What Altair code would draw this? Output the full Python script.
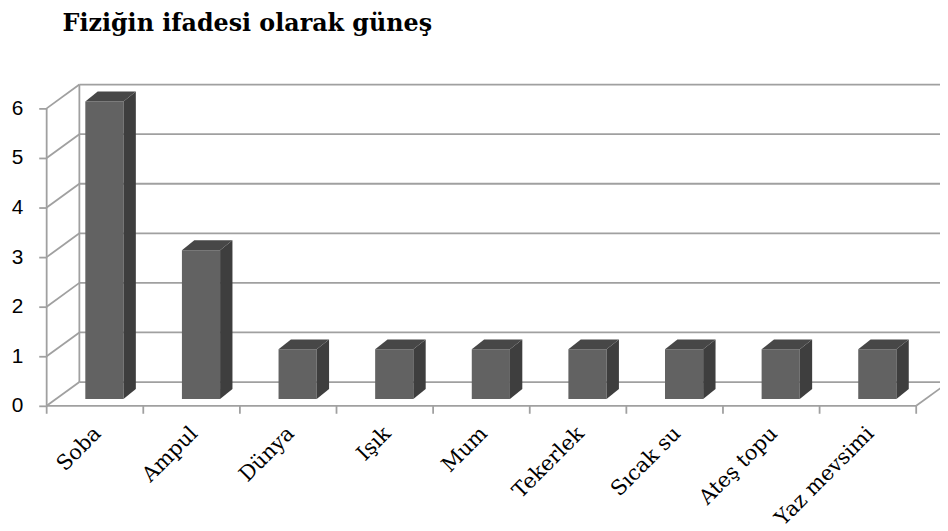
import altair as alt
import pandas as pd

# ---- data ----
categories = ["Soba", "Ampul", "Dünya", "Işık", "Mum", "Tekerlek", "Sıcak su", "Ateş topu", "Yaz mevsimi"]
values = [6, 3, 1, 1, 1, 1, 1, 1, 1]
y_ticks = [0, 1, 2, 3, 4, 5, 6]
title_text = "Fiziğin ifadesi olarak güneş"

# ---- pseudo-3D geometry (in data units) ----
N = len(categories)
DX, DY = 0.3385, 0.48       # wall depth
BASE = 0.14                 # bar sits slightly behind front plane
FL, FR = 0.40, 0.795        # bar front face within band
SDX, SDY = 0.128, 0.2       # bar depth

GRID = "#a0a0a0"

xs = alt.Scale(domain=[0, N], nice=False, zero=False)
ys = alt.Scale(domain=[0, 6.5], nice=False, zero=False)

# wall / floor lines
rules = []
for v in y_ticks:
    rules.append(dict(x=DX, x2=N + DX, y=v + DY, y2=v + DY))
    rules.append(dict(x=0, x2=DX, y=v, y2=v + DY))
rules.append(dict(x=DX, x2=DX, y=DY, y2=max(y_ticks) + DY))
rules.append(dict(x=0, x2=0, y=0, y2=max(y_ticks)))
rules.append(dict(x=0, x2=N, y=0, y2=0))
rules.append(dict(x=N, x2=N + DX, y=0, y2=DY))
for i in range(N + 1):
    rules.append(dict(x=i, x2=i, y=0, y2=-0.16))
rules_df = pd.DataFrame(rules)

walls = alt.Chart(rules_df).mark_rule(color=GRID, strokeWidth=1.8).encode(
    x=alt.X("x:Q", scale=xs, axis=None),
    x2="x2:Q",
    y=alt.Y("y:Q", scale=ys),
    y2="y2:Q",
)

# y axis (ticks + labels only)
yaxis_df = pd.DataFrame({"x": [0] * len(y_ticks), "y": y_ticks})
yaxis = alt.Chart(yaxis_df).mark_point(opacity=0).encode(
    x=alt.X("x:Q", scale=xs, axis=None),
    y=alt.Y("y:Q", scale=ys, axis=alt.Axis(
        values=y_ticks, domain=False, grid=False, title=None,
        tickSize=8, tickColor=GRID, tickWidth=1.8,
        labelPadding=16, labelFont="Liberation Sans", labelFontSize=21,
        labelColor="#000000")),
)

# bars
front_df = pd.DataFrame({
    "x": [i + FL for i in range(N)],
    "x2": [i + FR for i in range(N)],
    "y": [BASE] * N,
    "y2": [v + BASE for v in values],
})
front = alt.Chart(front_df).mark_bar(color="#626262").encode(
    x=alt.X("x:Q", scale=xs, axis=None), x2="x2:Q",
    y=alt.Y("y:Q", scale=ys), y2="y2:Q",
)

side_rows = []
top_rows = []
for i, v in enumerate(values):
    side_rows.append(dict(bar=i, x=i + FR, y=v + BASE, y2=BASE))
    side_rows.append(dict(bar=i, x=i + FR + SDX, y=v + BASE + SDY, y2=BASE + SDY))
    top_rows.append(dict(bar=i, y=v + BASE, x=i + FL, x2=i + FR))
    top_rows.append(dict(bar=i, y=v + BASE + SDY, x=i + FL + SDX, x2=i + FR + SDX))
side_df = pd.DataFrame(side_rows)
top_df = pd.DataFrame(top_rows)

side = alt.Chart(side_df).mark_area(color="#3e3e3e", orient="vertical").encode(
    x=alt.X("x:Q", scale=xs, axis=None),
    y=alt.Y("y:Q", scale=ys), y2="y2:Q",
    detail="bar:N",
)
top = alt.Chart(top_df).mark_area(color="#474747", orient="horizontal").encode(
    y=alt.Y("y:Q", scale=ys),
    x=alt.X("x:Q", scale=xs, axis=None), x2="x2:Q",
    detail="bar:N",
)

# category labels
lab_df = pd.DataFrame({"cat": categories, "x": [i + 0.53 for i in range(N)], "y": [-0.5] * N})
labels = alt.Chart(lab_df).mark_text(
    angle=315, align="right", baseline="middle",
    font="DejaVu Serif", fontSize=21, color="#000000",
).encode(
    x=alt.X("x:Q", scale=xs, axis=None),
    y=alt.Y("y:Q", scale=ys),
    text="cat:N",
)

chart = alt.layer(walls, yaxis, front, side, top, labels).properties(
    width=877,
    height=325,
    autosize=alt.AutoSizeParams(type="none"),
    padding={"left": 39, "top": 74, "right": 24, "bottom": 124},
    title=alt.TitleParams(
        title_text, anchor="start", frame="group", dx=16, offset=29,
        baseline="alphabetic", font="DejaVu Serif", fontSize=24,
        fontWeight="bold", color="#000000",
    ),
).configure_view(stroke=None)

chart.save("out.html", embed_options={"renderer": "svg", "actions": False})
